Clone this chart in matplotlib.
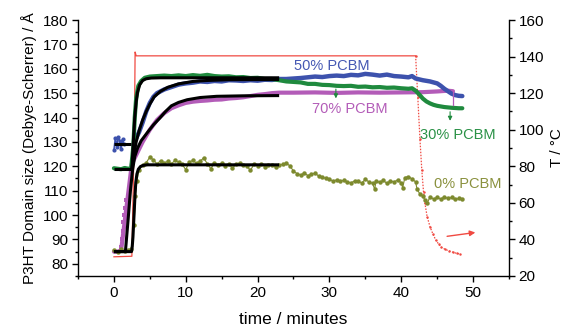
import matplotlib
matplotlib.use("Agg")
import matplotlib.pyplot as plt
import numpy as np

plt.rcParams["font.family"] = ["Liberation Sans", "DejaVu Sans"]

# ---- data (time in minutes, size in Angstrom) ----
olive_t = [0.0, 0.5, 1.0, 1.5, 2.0, 2.4, 2.8, 3.0, 3.2, 3.5,
           4.0, 4.5, 5.0, 5.5, 6.0, 6.5, 7.0, 7.5, 8.0, 8.5, 9.0, 9.5, 10.0,
           10.5, 11.0, 11.5, 12.0, 12.5, 13.0, 13.5, 14.0, 14.5, 15.0, 15.5,
           16.0, 16.5, 17.0, 17.5, 18.0, 18.5, 19.0, 19.5, 20.0, 20.5, 21.0,
           21.5, 22.0, 22.5, 23.0, 23.5, 24.0, 24.5, 25.0, 25.5, 26.0, 26.5,
           27.0, 27.5, 28.0, 28.5, 29.0, 29.5, 30.0, 30.5, 31.0, 31.5, 32.0,
           32.5, 33.0, 33.5, 34.0, 34.5, 35.0, 35.5, 36.0, 36.3, 36.5, 37.0,
           37.5, 38.0, 38.5, 39.0, 39.5, 40.0, 40.2, 40.5, 41.0, 41.5, 42.0,
           42.2, 42.6, 43.0, 43.3, 43.6, 44.0, 44.5, 45.0, 45.5, 46.0, 46.5,
           47.0, 47.5, 48.0, 48.4]
olive_v = [85.5, 85.0, 86.0, 85.2, 85.8, 86.0, 96.0, 108.0, 114.0, 118.5,
           120.5, 121.5, 123.8, 122.6, 121.0, 122.3, 121.4, 122.0, 121.0,
           122.4, 121.6, 120.8, 118.6, 121.8, 122.4, 121.2, 122.0, 123.5,
           121.0, 119.0, 121.5, 120.6, 121.3, 120.2, 121.0, 119.2, 120.8,
           121.4, 120.5, 120.2, 118.3, 120.8, 120.3, 121.0, 119.8, 120.4,
           120.6, 119.6, 120.6, 120.8, 121.2, 120.2, 118.0, 117.0, 116.4,
           117.2, 116.2, 116.8, 117.2, 116.0, 115.6, 115.0, 114.6, 114.0,
           114.4, 113.8, 114.3, 113.6, 113.2, 114.0, 113.8, 113.2, 114.6,
           113.6, 113.0, 110.6, 114.0, 113.4, 114.2, 113.0, 114.0, 113.6,
           114.4, 113.2, 111.2, 115.4, 115.8, 114.8, 113.6, 110.6, 108.6,
           108.0, 106.0, 104.8, 107.4, 106.6, 107.2, 106.6, 107.4, 106.8,
           107.2, 106.4, 106.8, 106.6]

blue_t = [0.0, 0.2, 0.4, 0.6, 0.8, 1.0, 1.2, 1.4, 3.0, 3.5, 4.0, 4.5, 5.0,
          5.5, 6.0, 7.0, 8.0, 9.0, 10.0, 11.0, 12.0, 13.0, 14.0, 15.0, 16.0,
          17.0, 18.0, 19.0, 20.0, 21.0, 22.0, 23.0, 24.0, 25.0, 26.0, 27.0,
          28.0, 29.0, 30.0, 31.0, 32.0, 33.0, 34.0, 35.0, 36.0, 37.0, 38.0,
          39.0, 40.0, 41.0, 41.5, 42.0, 43.0, 44.0, 45.0, 45.5, 46.0, 46.5,
          47.0, 47.5, 48.0, 48.5]
blue_v = [126.5, 131.5, 128.0, 132.0, 130.5, 127.0, 131.0, 129.0, 131.0,
          134.0, 138.0, 142.5, 146.0, 148.5, 150.0, 151.5, 152.5, 153.5,
          154.0, 154.3, 154.8, 154.6, 155.0, 154.8, 155.3, 155.2, 155.0,
          155.3, 155.1, 155.5, 155.4, 155.8, 155.8, 156.0, 156.2, 156.5,
          156.8, 156.6, 157.0, 157.2, 157.0, 157.5, 157.3, 157.9, 157.6,
          157.2, 157.6, 157.0, 156.8, 156.5, 157.0, 156.0, 155.3, 154.8,
          154.0, 153.0, 151.8, 150.8, 149.8, 149.2, 148.9, 148.8]

green_t = [0.0, 0.5, 1.0, 1.5, 2.0, 2.4, 2.7, 2.9, 3.1, 3.4, 3.8, 4.3, 5.0,
           6.0, 7.0, 8.0, 9.0, 10.0, 11.0, 12.0, 13.0, 14.0, 15.0, 16.0,
           17.0, 18.0, 19.0, 20.0, 21.0, 22.0, 23.0, 24.0, 25.0, 26.0, 27.0,
           28.0, 29.0, 30.0, 31.0, 32.0, 33.0, 34.0, 35.0, 36.0, 37.0, 38.0,
           39.0, 40.0, 41.0, 41.5, 42.0, 42.5, 43.0, 43.5, 44.0, 44.5, 45.0,
           46.0, 47.0, 48.0, 48.5]
green_v = [119.2, 119.0, 118.8, 119.3, 119.0, 119.2, 128.0, 140.0, 148.0,
           153.0, 155.0, 156.3, 156.8, 157.0, 157.2, 157.0, 157.3, 157.0,
           157.4, 157.1, 157.5, 157.0, 156.8, 156.9, 156.5, 156.6, 156.2,
           156.3, 155.8, 155.8, 155.3, 154.8, 154.6, 154.4, 153.8, 153.8,
           153.4, 153.3, 153.0, 152.9, 153.0, 152.6, 152.7, 152.4, 152.5,
           152.2, 152.3, 152.0, 151.8, 152.0, 151.0, 149.5, 147.8, 146.6,
           145.8, 145.2, 144.8, 144.3, 144.0, 143.8, 143.8]

purple_dot_t = [1.0, 1.1, 1.2, 1.3, 1.4, 1.55, 1.7]
purple_dot_v = [87.0, 90.0, 93.5, 97.0, 100.0, 103.0, 106.0]
purple_t = [0.0, 0.5, 1.0, 2.5, 3.0, 3.5, 4.0, 4.5, 5.0, 5.5, 6.0, 7.0,
            8.0, 9.0, 10.0, 11.0, 12.0, 13.0, 14.0, 15.0, 16.0, 17.0, 18.0,
            19.0, 20.0, 21.0, 22.0, 23.0, 25.0, 28.0, 31.0, 34.0, 37.0, 40.0,
            43.0, 45.0, 46.5, 47.2]
purple_v = [85.0, 85.0, 85.5, 121.0, 124.0, 127.0, 130.0, 132.5, 135.0,
            137.0, 139.0, 141.8, 143.8, 145.0, 146.0, 146.5, 146.8, 147.0,
            147.3, 147.4, 147.8, 148.0, 148.3, 148.8, 149.3, 149.6, 150.0,
            150.2, 150.2, 150.3, 150.1, 150.3, 150.2, 150.3, 150.4, 150.7,
            151.0, 150.8]

# fitted curves (black)
fit0_t = [0, 2.45, 2.55, 2.65, 2.75, 2.85, 2.95, 3.05, 3.2, 3.4, 3.7, 4.1,
          4.7, 6, 23]
fit0_v = [85, 85, 87, 91, 97, 103, 109, 113.5, 116.8, 118.8, 119.9, 120.4,
          120.6, 120.6, 120.6]
fit50_t = [2.5, 2.8, 3.1, 3.5, 4, 4.5, 5, 5.6, 6.5, 7.5, 9, 11, 13, 16, 23]
fit50_v = [119, 125, 130, 134.5, 139, 142.5, 145.5, 148.5, 150.8, 152.4,
           153.8, 154.8, 155.2, 155.5, 155.6]
fit30_t = [2.5, 2.7, 2.9, 3.1, 3.3, 3.6, 4.0, 4.5, 5.2, 6.5, 23]
fit30_v = [119, 130, 140, 146.5, 150.5, 153.5, 155.2, 155.9, 156.2, 156.3,
           156.3]
fit70_t = [0, 1.6, 2.0, 2.3, 2.6, 2.9, 3.3, 3.8, 4.7, 5.5, 6.3, 7.2, 8.0,
           9.0, 10.2, 12, 14.3, 18, 23]
fit70_v = [85, 85, 99, 110, 118.6, 124, 127.5, 130.5, 134, 137, 139.5,
           142.5, 144.8, 146.2, 147.3, 148.2, 148.7, 148.9, 149.0]
base_t = [0, 2.4]
base50 = [129.2, 129.2]
base30 = [119.0, 119.0]

# temperature (right axis, deg C)
temp_t = [0.0, 2.5, 2.87, 2.95, 3.1, 42.0]
temp_T = [30.5, 30.8, 105, 142.5, 140.4, 140.4]
cool_t = [42.0, 42.3, 42.6, 42.86, 43.1, 43.3, 43.6, 44.0, 44.4, 44.8,
          45.2, 45.6, 46.1, 46.6, 47.2, 47.7, 48.2]
cool_T = [140.4, 118, 95, 78, 66, 59.7, 52.5, 47, 43, 39.7, 37.5, 35.7,
          34.6, 33.8, 33, 32.4, 32]

C_BLUE = "#3d52ad"
C_GREEN = "#1f8a3e"
C_PURPLE = "#b35cb8"
C_OLIVE = "#7d8a2e"
C_RED = "#f04a42"

fig = plt.figure(figsize=(5.66, 3.29), dpi=100)
ax = fig.add_axes([0.1378, 0.1611, 0.7615, 0.7781])
ax2 = ax.twinx()
ax.set_zorder(ax2.get_zorder() + 1)
ax.patch.set_visible(False)

ax2.plot(temp_t, temp_T, color=C_RED, lw=0.9)
ax2.plot(cool_t, cool_T, color=C_RED, lw=0.9, ls=(0, (1.2, 1.2)),
         marker=".", ms=1.5)
ax2.annotate("", xy=(50.7, 44.0), xytext=(46.0, 41.5),
             arrowprops=dict(arrowstyle="-|>", color=C_RED, lw=1.0,
                             mutation_scale=8))

ax.plot(purple_t, purple_v, color=C_PURPLE, lw=3.0, solid_capstyle="round")
ax.plot(purple_dot_t, purple_dot_v, "s", color=C_PURPLE, ms=2.2, mew=0)
ax.plot(blue_t[:8], blue_v[:8], "o-", color=C_BLUE, lw=1.2, ms=3, mew=0)
ax.plot(blue_t[8:], blue_v[8:], color=C_BLUE, lw=3.2, solid_capstyle="round")
ax.plot(green_t, green_v, color=C_GREEN, lw=3.0, solid_capstyle="round")
ax.plot(olive_t, olive_v, "o-", color=C_OLIVE, lw=0.8, ms=3.2, mew=0)

for ft, fv in [(fit0_t, fit0_v), (fit50_t, fit50_v), (fit30_t, fit30_v),
               (fit70_t, fit70_v), (base_t, base50), (base_t, base30)]:
    ax.plot(ft, fv, color="black", lw=2.2, solid_capstyle="butt")

# small markers/arrows
ax.annotate("", xy=(30.9, 146.7), xytext=(30.9, 152.8),
            arrowprops=dict(arrowstyle="-|>", color=C_GREEN, lw=0.8,
                            mutation_scale=6))
ax.annotate("", xy=(46.8, 137.5), xytext=(46.8, 143.5),
            arrowprops=dict(arrowstyle="-|>", color=C_GREEN, lw=0.8,
                            mutation_scale=6))
ax.plot([47.2, 47.2], [150.8, 145.3], color=C_PURPLE, lw=0.9)

ax.text(30.3, 161.1, "50% PCBM", color="#4558b3", fontsize=10.5,
        ha="center", va="center")
ax.text(32.9, 143.3, "70% PCBM", color="#b35cb8", fontsize=10.5,
        ha="center", va="center")
ax.text(47.9, 133.0, "30% PCBM", color="#2a9146", fontsize=10.5,
        ha="center", va="center")
ax.text(49.3, 112.6, "0% PCBM", color="#8a913e", fontsize=10.5,
        ha="center", va="center")

ax.set_xlim(-5, 55)
ax.set_ylim(75, 180)
ax2.set_ylim(20, 160)
ax.set_xticks([0, 10, 20, 30, 40, 50])
ax.set_xticks(np.arange(-5, 56, 10), minor=True)
ax.set_yticks(np.arange(80, 181, 10))
ax.set_yticks(np.arange(75, 180, 10), minor=True)
ax2.set_yticks(np.arange(20, 161, 20))
ax2.set_yticks(np.arange(30, 160, 20), minor=True)

for a in (ax, ax2):
    a.spines["top"].set_visible(False)
    for s in a.spines.values():
        s.set_linewidth(1.0)
    a.tick_params(which="major", direction="out", length=4.5, width=1.0,
                  labelsize=11, pad=2.5)
    a.tick_params(which="minor", direction="out", length=2.5, width=1.0)
ax.spines["right"].set_visible(False)
ax2.spines["left"].set_visible(False)
ax2.spines["bottom"].set_visible(False)

ax.set_xlabel("time / minutes", fontsize=12.5, labelpad=9)
ax.set_ylabel("P3HT Domain size (Debye-Scherrer) / Å", fontsize=11,
              labelpad=4)
ax2.set_ylabel("T / °C", fontsize=11, labelpad=4)

fig.savefig("out.png", dpi=100)
